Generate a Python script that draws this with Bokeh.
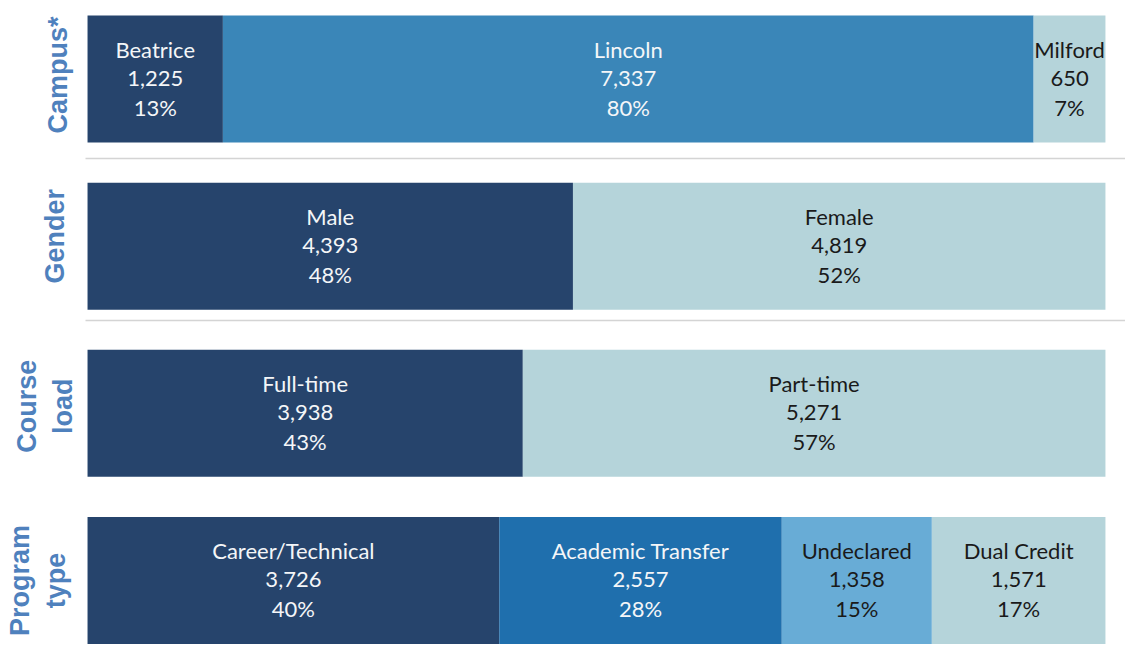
import numpy as np
from bokeh.plotting import figure
from bokeh.models import ColumnDataSource, Range1d
from bokeh.core.properties import value
from bokeh.embed import file_html
from bokeh.resources import INLINE

# ---------------- data ----------------
row_titles = ["Campus*", "Gender", "Course\nload", "Program\ntype"]

campus_names = ["Beatrice", "Lincoln", "Milford"]
campus_counts = [1225, 7337, 650]
campus_pcts = [13, 80, 7]

gender_names = ["Male", "Female"]
gender_counts = [4393, 4819]
gender_pcts = [48, 52]

load_names = ["Full-time", "Part-time"]
load_counts = [3938, 5271]
load_pcts = [43, 57]

program_names = ["Career/Technical", "Academic Transfer", "Undeclared", "Dual Credit"]
program_counts = [3726, 2557, 1358, 1571]
program_pcts = [40, 28, 15, 17]

# ---------------- styles ----------------
NAVY = "#26446c"
LINCOLN = "#3a86b8"
LIGHT = "#b5d4da"
ACADEMIC = "#1f6fad"
UNDECL = "#68acd6"
WHITE_T = "#f4f6f8"
DARK_T = "#1a1a1a"

groups = [
    (campus_names, campus_counts, campus_pcts, [NAVY, LINCOLN, LIGHT], [WHITE_T, WHITE_T, DARK_T]),
    (gender_names, gender_counts, gender_pcts, [NAVY, LIGHT], [WHITE_T, DARK_T]),
    (load_names, load_counts, load_pcts, [NAVY, LIGHT], [WHITE_T, DARK_T]),
    (program_names, program_counts, program_pcts, [NAVY, ACADEMIC, UNDECL, LIGHT], [WHITE_T, WHITE_T, DARK_T, DARK_T]),
]

data = dict(y=[], left=[], right=[], mid=[], color=[], tcolor=[], name=[], cnt=[], pct=[])
for i, (names, counts, pcts, cols, tcols) in enumerate(groups):
    total = float(sum(counts))
    cum = 0.0
    for n, c, pc, col, tc in zip(names, counts, pcts, cols, tcols):
        l = cum / total
        r = (cum + c) / total
        cum += c
        data["y"].append(i)
        data["left"].append(l)
        data["right"].append(r)
        data["mid"].append((l + r) / 2)
        data["color"].append(col)
        data["tcolor"].append(tc)
        data["name"].append(n)
        data["cnt"].append(f"{c:,}")
        data["pct"].append(f"{pc}%")
src = ColumnDataSource(data)

W, H = 1125, 644
X0, X1 = -0.0855, 1.0197
p = figure(width=W, height=H, output_backend="svg", toolbar_location=None,
           x_range=Range1d(X0, X1), y_range=Range1d(3.3828, -0.4696),
           x_axis_location=None, y_axis_location=None, min_border=0,
           outline_line_color=None, background_fill_color="white",
           border_fill_color="white")
p.grid.visible = False

# separators
sep_y = [0.4756, 1.4447]
p.segment(x0=[-0.002, -0.002], y0=sep_y, x1=[X1, X1], y1=sep_y,
          line_color="#d4d4d4", line_width=1.5)

p.hbar(y="y", left="left", right="right", height=0.76, fill_color="color",
       line_color=None, source=src)

font = value("Lato")
for field, off in (("name", -30), ("cnt", -1), ("pct", 28)):
    p.text(x="mid", y="y", text=field, y_offset=off, text_align="center",
           text_baseline="middle", text_color="tcolor", text_font=font,
           text_font_size="22px", source=src)

# row titles (rotated)
title_src = ColumnDataSource(dict(
    x=[0, 0, 0, 0], y=list(range(4)), t=row_titles,
    xo=[-30, -33, -43, -50], yo=[-4, -10, -7, 0]))
p.text(x="x", y="y", text="t", x_offset="xo", y_offset="yo", angle=np.pi / 2,
       text_align="center", text_baseline="middle", text_color="#4f81bd",
       text_font=value("Liberation Sans"), text_font_style="bold",
       text_font_size="27px", text_line_height=1.2, source=title_src)

open("out.html", "w").write(file_html(p, INLINE))
